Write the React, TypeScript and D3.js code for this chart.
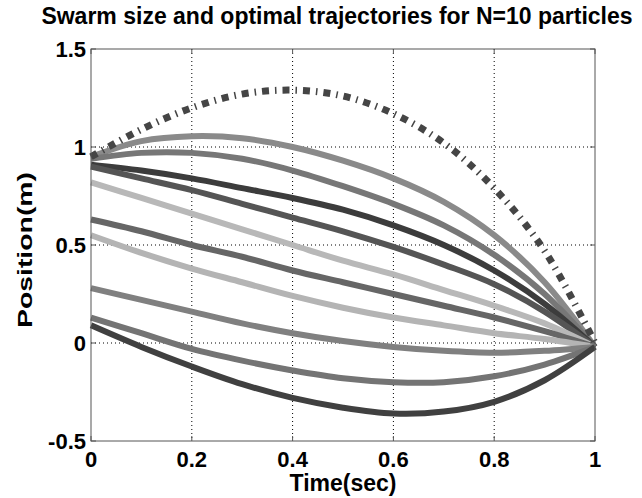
import React, { useEffect, useRef } from 'react';
import * as d3 from 'd3';

// time samples (sec)
const timeSteps = [0, 0.1, 0.2, 0.3, 0.4, 0.5, 0.6, 0.7, 0.8, 0.9, 1.0];

// swarm envelope (dash-dot)
const swarmSize = [0.95, 1.09, 1.2, 1.27, 1.29, 1.26, 1.17, 1.02, 0.79, 0.47, 0.0];

// particle trajectories, top to bottom
const particleA = [0.95, 1.03, 1.055, 1.045, 1.0, 0.93, 0.84, 0.72, 0.55, 0.31, -0.02];
const particleB = [0.94, 0.97, 0.97, 0.94, 0.88, 0.8, 0.71, 0.6, 0.45, 0.25, -0.02];
const particleC = [0.91, 0.88, 0.84, 0.79, 0.74, 0.68, 0.6, 0.5, 0.37, 0.2, -0.02];
const particleD = [0.9, 0.84, 0.78, 0.71, 0.64, 0.57, 0.49, 0.4, 0.3, 0.16, -0.02];
const particleE = [0.82, 0.74, 0.66, 0.58, 0.5, 0.42, 0.35, 0.27, 0.19, 0.1, -0.02];
const particleF = [0.63, 0.57, 0.5, 0.44, 0.37, 0.31, 0.25, 0.19, 0.13, 0.06, -0.02];
const particleG = [0.55, 0.46, 0.38, 0.31, 0.24, 0.18, 0.13, 0.09, 0.05, 0.02, -0.02];
const particleH = [0.28, 0.22, 0.16, 0.1, 0.05, 0.01, -0.02, -0.04, -0.05, -0.04, -0.02];
const particleI = [0.13, 0.05, -0.03, -0.09, -0.14, -0.18, -0.2, -0.2, -0.17, -0.11, -0.02];
const particleJ = [0.09, -0.02, -0.12, -0.21, -0.28, -0.33, -0.36, -0.35, -0.3, -0.19, -0.02];

const particles = [particleA, particleB, particleC, particleD, particleE, particleF, particleG, particleH, particleI, particleJ];
const particleColors = ['#8a8a8a', '#777777', '#3c3c3c', '#555555', '#b8b8b8', '#666666', '#b4b4b4', '#808080', '#747474', '#404040'];

const xTicks = [0, 0.2, 0.4, 0.6, 0.8, 1];
const yTicks = [-0.5, 0, 0.5, 1, 1.5];

const WIDTH = 642;
const HEIGHT = 498;
const FONT = '"Liberation Sans", Arial, Helvetica, sans-serif';

export default function App() {
  const svgRef = useRef<SVGSVGElement>(null);

  useEffect(() => {
    if (!svgRef.current) return;
    const svg = d3.select(svgRef.current);
    svg.selectAll('*').remove();

    const margin = { top: 49, right: 47, bottom: 57, left: 91 };
    const innerWidth = WIDTH - margin.left - margin.right;
    const innerHeight = HEIGHT - margin.top - margin.bottom;

    const x = d3.scaleLinear().domain([0, 1]).range([0, innerWidth]);
    const y = d3.scaleLinear().domain([-0.5, 1.5]).range([innerHeight, 0]);

    const g = svg.append('g').attr('transform', `translate(${margin.left},${margin.top})`);

    // dotted grid
    g.selectAll('.vgrid')
      .data(xTicks.slice(1, -1))
      .enter()
      .append('line')
      .attr('x1', d => x(d)).attr('x2', d => x(d))
      .attr('y1', 0).attr('y2', innerHeight)
      .attr('stroke', '#000')
      .attr('stroke-width', 1)
      .attr('stroke-dasharray', '1,3');
    g.selectAll('.hgrid')
      .data(yTicks.slice(1, -1))
      .enter()
      .append('line')
      .attr('x1', 0).attr('x2', innerWidth)
      .attr('y1', d => y(d)).attr('y2', d => y(d))
      .attr('stroke', '#000')
      .attr('stroke-width', 1)
      .attr('stroke-dasharray', '1,3');

    const line = d3.line<number>()
      .x((_, i) => x(timeSteps[i]))
      .y(d => y(d))
      .curve(d3.curveCatmullRom);

    g.selectAll('.particle')
      .data(particles)
      .enter()
      .append('path')
      .attr('d', d => line(d))
      .attr('fill', 'none')
      .attr('stroke', (_, i) => particleColors[i])
      .attr('stroke-width', 6);

    g.append('path')
      .attr('d', line(swarmSize))
      .attr('fill', 'none')
      .attr('stroke', '#454545')
      .attr('stroke-width', 7)
      .attr('stroke-dasharray', '7,6,1.5,6');

    // frame with inward ticks
    g.append('rect')
      .attr('x', 0).attr('y', 0)
      .attr('width', innerWidth).attr('height', innerHeight)
      .attr('fill', 'none')
      .attr('stroke', '#555')
      .attr('stroke-width', 1);

    const tickLen = 5;
    xTicks.forEach(t => {
      g.append('line').attr('x1', x(t)).attr('x2', x(t)).attr('y1', innerHeight).attr('y2', innerHeight - tickLen).attr('stroke', '#555');
      g.append('line').attr('x1', x(t)).attr('x2', x(t)).attr('y1', 0).attr('y2', tickLen).attr('stroke', '#555');
    });
    yTicks.forEach(t => {
      g.append('line').attr('x1', 0).attr('x2', tickLen).attr('y1', y(t)).attr('y2', y(t)).attr('stroke', '#555');
      g.append('line').attr('x1', innerWidth).attr('x2', innerWidth - tickLen).attr('y1', y(t)).attr('y2', y(t)).attr('stroke', '#555');
    });

    // tick labels
    g.selectAll('.xlabel')
      .data(xTicks)
      .enter()
      .append('text')
      .attr('x', d => x(d))
      .attr('y', innerHeight + 26)
      .attr('text-anchor', 'middle')
      .attr('font-family', FONT)
      .attr('font-weight', 'bold')
      .attr('font-size', 22)
      .text(d => String(d));

    g.selectAll('.ylabel')
      .data(yTicks)
      .enter()
      .append('text')
      .attr('x', -5)
      .attr('y', d => y(d) + 8)
      .attr('text-anchor', 'end')
      .attr('font-family', FONT)
      .attr('font-weight', 'bold')
      .attr('font-size', 22)
      .text(d => String(d));

    // title and axis labels
    svg.append('text')
      .attr('x', 337)
      .attr('y', 24)
      .attr('text-anchor', 'middle')
      .attr('font-family', FONT)
      .attr('font-weight', 'bold')
      .attr('font-size', 23)
      .text('Swarm size and optimal trajectories for N=10 particles');

    svg.append('text')
      .attr('x', margin.left + innerWidth / 2)
      .attr('y', 491)
      .attr('text-anchor', 'middle')
      .attr('font-family', FONT)
      .attr('font-weight', 'bold')
      .attr('font-size', 23)
      .text('Time(sec)');

    svg.append('text')
      .attr('transform', `translate(32,250) rotate(-90)`)
      .attr('text-anchor', 'middle')
      .attr('font-family', FONT)
      .attr('font-weight', 'bold')
      .attr('font-size', 21)
      .attr('textLength', 156)
      .attr('lengthAdjust', 'spacingAndGlyphs')
      .text('Position(m)');
  }, []);

  return (
    <div style={{ position: 'absolute', left: 0, top: 0, background: '#fff' }}>
      <svg ref={svgRef} width={WIDTH} height={HEIGHT} style={{ display: 'block' }} />
    </div>
  );
}
